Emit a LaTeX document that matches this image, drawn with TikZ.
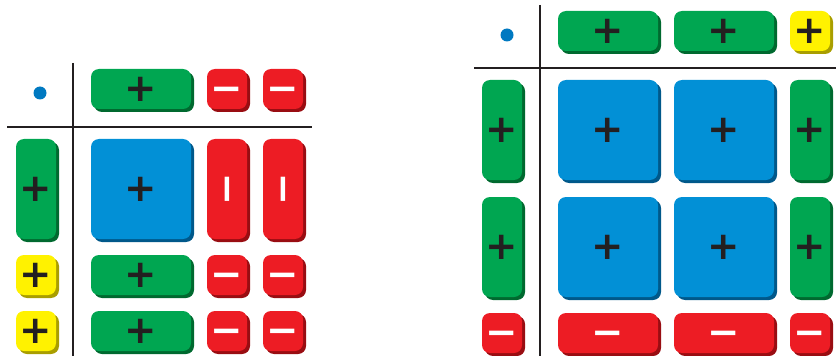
\documentclass[tikz,border=0pt]{standalone}
\usepackage{fontspec}
\newfontfamily\signfont{DejaVu Sans}
\usepackage{graphicx}
\usepackage{xcolor}
\usepackage{tikz}
\usetikzlibrary{shadows}

\definecolor{tgreen}{HTML}{00A651}
\definecolor{tgreenD}{HTML}{00692F}
\definecolor{tblue}{HTML}{0290D6}
\definecolor{tblueD}{HTML}{00588A}
\definecolor{tred}{HTML}{ED1C24}
\definecolor{tredD}{HTML}{990D12}
\definecolor{tyellow}{HTML}{FFF200}
\definecolor{tyellowD}{HTML}{A99E00}
\definecolor{dotblue}{HTML}{0079C1}
\definecolor{axisgray}{HTML}{231F20}

% sign glyphs centred on the tile
\newcommand{\signaxis}{0.33em}
\newcommand{\tsign}[1]{\smash{\raisebox{-\signaxis}{#1}}}
\newcommand{\tbar}{\smash{\raisebox{-.5\height}{\rotatebox{90}{\tsign{−}}}}}

\begin{document}
\begin{tikzpicture}[
  x=0.75pt, y=-0.75pt,
  tile/.style={rounded corners=6pt, inner sep=0pt, outer sep=0pt,
               text=axisgray, font=\fontsize{29}{29}\signfont\bfseries},
  one/.style={tile, minimum width=30pt, minimum height=30pt},
  xbar/.style={tile, minimum width=75pt, minimum height=30pt},
  ybar/.style={tile, minimum width=30pt, minimum height=75pt},
  xsq/.style={tile, minimum width=75pt, minimum height=75pt},
  gtile/.style={fill=tgreen, general shadow={fill=tgreenD, shadow xshift=2.25pt, shadow yshift=-2.25pt}},
  btile/.style={fill=tblue, general shadow={fill=tblueD, shadow xshift=2.25pt, shadow yshift=-2.25pt}},
  ytile/.style={fill=tyellow, general shadow={fill=tyellowD, shadow xshift=2.25pt, shadow yshift=-2.25pt}},
  rtile/.style={fill=tred, text=white, general shadow={fill=tredD, shadow xshift=2.25pt, shadow yshift=-2.25pt}},
  unitdot/.style={circle, fill=dotblue, inner sep=0pt, minimum size=9.75pt},
  axisline/.style={draw=axisgray, line width=2pt}
]
  \useasboundingbox (0,0) rectangle (838,356);

  % left product
  \node[unitdot] (ldot) at (40,93) {};
  \node[xbar, gtile] (l01) at (141,89) {\tsign{+}};
  \node[one, rtile] (l02) at (227,89) {\tsign{−}};
  \node[one, rtile] (l03) at (283,89) {\tsign{−}};

  \node[ybar, gtile] (l10) at (36,189) {\tsign{+}};
  \node[xsq, btile] (l11) at (141,189) {\tsign{+}};
  \node[ybar, rtile] (l12) at (227,189) {\tbar};
  \node[ybar, rtile] (l13) at (283,189) {\tbar};

  \node[one, ytile] (l20) at (36,275) {\tsign{+}};
  \node[xbar, gtile] (l21) at (141,275) {\tsign{+}};
  \node[one, rtile] (l22) at (227,275) {\tsign{−}};
  \node[one, rtile] (l23) at (283,275) {\tsign{−}};

  \node[one, ytile] (l30) at (36,331) {\tsign{+}};
  \node[xbar, gtile] (l31) at (141,331) {\tsign{+}};
  \node[one, rtile] (l32) at (227,331) {\tsign{−}};
  \node[one, rtile] (l33) at (283,331) {\tsign{−}};

  \coordinate (lvt) at (73,63);
  \coordinate (lvb) at (73,356);
  \coordinate (lhl) at (7,127);
  \coordinate (lhr) at (312,127);
  \draw[axisline] (lvt) -- (lvb);
  \draw[axisline] (lhl) -- (lhr);

  % right product
  \node[unitdot] (rdot) at (507,35) {};
  \node[xbar, gtile] (r01) at (608,31) {\tsign{+}};
  \node[xbar, gtile] (r02) at (724,31) {\tsign{+}};
  \node[one, ytile] (r03) at (810,31) {\tsign{+}};

  \node[ybar, gtile] (r10) at (502,130) {\tsign{+}};
  \node[xsq, btile] (r11) at (608,130) {\tsign{+}};
  \node[xsq, btile] (r12) at (724,130) {\tsign{+}};
  \node[ybar, gtile] (r13) at (810,130) {\tsign{+}};

  \node[ybar, gtile] (r20) at (502,247) {\tsign{+}};
  \node[xsq, btile] (r21) at (608,247) {\tsign{+}};
  \node[xsq, btile] (r22) at (724,247) {\tsign{+}};
  \node[ybar, gtile] (r23) at (810,247) {\tsign{+}};

  \node[one, rtile] (r30) at (502,333) {\tsign{−}};
  \node[xbar, rtile] (r31) at (608,333) {\tsign{−}};
  \node[xbar, rtile] (r32) at (724,333) {\tsign{−}};
  \node[one, rtile] (r33) at (810,333) {\tsign{−}};

  \coordinate (rvt) at (540,5);
  \coordinate (rvb) at (540,356);
  \coordinate (rhl) at (474,68);
  \coordinate (rhr) at (836,68);
  \draw[axisline] (rvt) -- (rvb);
  \draw[axisline] (rhl) -- (rhr);
\end{tikzpicture}
\end{document}
